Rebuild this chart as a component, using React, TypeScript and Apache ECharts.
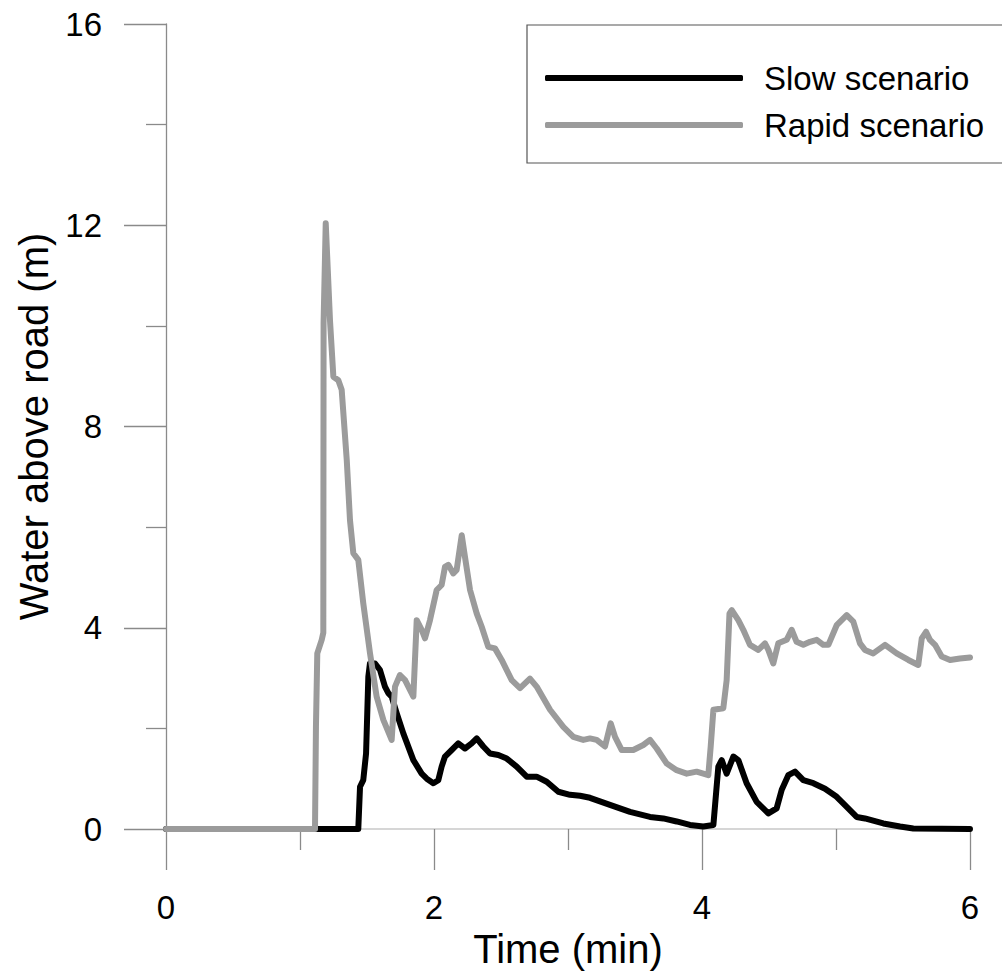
import React, { useEffect, useRef } from "react";
import * as echarts from "echarts";

const seriesNames = ["Slow scenario", "Rapid scenario"];
const xTicks = [0, 2, 4, 6];
const yTicks = [0, 4, 8, 12, 16];

const slowTime = [0, 1.435, 1.448, 1.472, 1.493, 1.51, 1.522, 1.56, 1.597, 1.634, 1.659, 1.684, 1.722, 1.771, 1.846, 1.908, 1.946, 1.995, 2.032, 2.057, 2.082, 2.132, 2.181, 2.231, 2.281, 2.319, 2.368, 2.418, 2.48, 2.543, 2.617, 2.692, 2.766, 2.841, 2.928, 3.015, 3.09, 3.164, 3.313, 3.463, 3.612, 3.711, 3.811, 3.91, 4.01, 4.085, 4.122, 4.147, 4.184, 4.234, 4.271, 4.333, 4.408, 4.495, 4.557, 4.595, 4.644, 4.694, 4.756, 4.831, 4.918, 5.005, 5.08, 5.154, 5.216, 5.353, 5.478, 5.577, 6.0];
const slowValue = [0, 0, 0.84, 0.97, 1.5, 3.03, 3.29, 3.29, 3.16, 2.83, 2.7, 2.63, 2.3, 1.9, 1.37, 1.1, 1.0, 0.91, 0.97, 1.24, 1.44, 1.57, 1.7, 1.6, 1.7, 1.8, 1.64, 1.5, 1.47, 1.4, 1.24, 1.04, 1.04, 0.94, 0.74, 0.68, 0.66, 0.62, 0.48, 0.34, 0.24, 0.21, 0.15, 0.08, 0.05, 0.08, 1.24, 1.37, 1.1, 1.44, 1.37, 0.91, 0.54, 0.31, 0.41, 0.78, 1.07, 1.14, 0.97, 0.91, 0.8, 0.64, 0.44, 0.24, 0.21, 0.11, 0.05, 0.01, 0];

const rapidTime = [0, 1.112, 1.119, 1.129, 1.162, 1.174, 1.176, 1.192, 1.224, 1.249, 1.286, 1.311, 1.349, 1.373, 1.398, 1.435, 1.472, 1.522, 1.572, 1.622, 1.684, 1.709, 1.746, 1.784, 1.846, 1.871, 1.908, 1.933, 1.97, 2.02, 2.057, 2.082, 2.107, 2.144, 2.169, 2.207, 2.231, 2.269, 2.319, 2.356, 2.405, 2.455, 2.505, 2.58, 2.642, 2.716, 2.766, 2.866, 2.965, 3.04, 3.114, 3.164, 3.214, 3.276, 3.319, 3.351, 3.401, 3.487, 3.562, 3.612, 3.662, 3.737, 3.811, 3.886, 3.96, 4.01, 4.047, 4.065, 4.085, 4.159, 4.184, 4.205, 4.222, 4.271, 4.308, 4.358, 4.42, 4.47, 4.495, 4.532, 4.569, 4.632, 4.669, 4.706, 4.756, 4.806, 4.856, 4.905, 4.943, 5.005, 5.08, 5.129, 5.179, 5.216, 5.278, 5.366, 5.453, 5.54, 5.614, 5.64, 5.672, 5.701, 5.739, 5.789, 5.851, 5.925, 6.0];
const rapidValue = [0, 0, 2.03, 3.49, 3.76, 3.9, 10.06, 12.04, 10.1, 8.99, 8.92, 8.73, 7.33, 6.14, 5.48, 5.35, 4.49, 3.5, 2.63, 2.17, 1.77, 2.83, 3.06, 2.96, 2.63, 4.15, 3.96, 3.79, 4.15, 4.75, 4.85, 5.21, 5.25, 5.08, 5.15, 5.84, 5.41, 4.75, 4.28, 4.02, 3.62, 3.59, 3.36, 2.96, 2.8, 2.99, 2.83, 2.37, 2.03, 1.83, 1.77, 1.8, 1.77, 1.64, 2.1, 1.83, 1.57, 1.57, 1.67, 1.77, 1.6, 1.3, 1.17, 1.1, 1.14, 1.1, 1.07, 1.64, 2.37, 2.4, 2.96, 4.28, 4.35, 4.15, 3.96, 3.66, 3.56, 3.69, 3.56, 3.29, 3.69, 3.76, 3.96, 3.72, 3.66, 3.72, 3.76, 3.66, 3.66, 4.05, 4.25, 4.12, 3.69, 3.56, 3.49, 3.66, 3.49, 3.36, 3.26, 3.79, 3.92, 3.76, 3.66, 3.43, 3.36, 3.39, 3.41];

const FONT = "'Liberation Sans', Arial, sans-serif";

export default function App() {
  const ref = useRef<HTMLDivElement>(null);
  useEffect(() => {
    if (!ref.current) return;
    const chart = echarts.init(ref.current, null, { renderer: "svg" });
    const pair = (ts: number[], vs: number[]) => ts.map((t, i) => [t, vs[i]]);
    chart.setOption({
      animation: false,
      backgroundColor: "#ffffff",
      textStyle: { fontFamily: FONT },
      grid: { left: 166, right: 32, top: 24, bottom: 148, containLabel: false },
      legend: {
        orient: "vertical",
        left: 540,
        top: 56,
        icon: "roundRect",
        itemWidth: 198,
        itemHeight: 6,
        itemGap: 13,
        data: seriesNames,
        textStyle: { fontFamily: FONT, fontSize: 33, color: "#000", lineHeight: 34, padding: [0, 0, 0, 16] },
      },
      xAxis: {
        type: "value",
        min: xTicks[0],
        max: xTicks[xTicks.length - 1],
        interval: 2,
        name: "Time (min)",
        nameLocation: "middle",
        nameGap: 98,
        nameTextStyle: { fontFamily: FONT, fontSize: 40, color: "#000" },
        axisLine: { show: true, lineStyle: { color: "#c8c8c8", width: 1.5 } },
        axisTick: { show: true, length: 41, lineStyle: { color: "#8a8a8a", width: 1.3 } },
        minorTick: { show: true, splitNumber: 2, length: 21, lineStyle: { color: "#8a8a8a", width: 1.3 } },
        splitLine: { show: false },
        axisLabel: { fontFamily: FONT, fontSize: 33, color: "#000", margin: 62 },
      },
      yAxis: {
        type: "value",
        min: yTicks[0],
        max: yTicks[yTicks.length - 1],
        interval: 4,
        name: "Water above road (m)",
        nameLocation: "middle",
        nameGap: 108,
        nameTextStyle: { fontFamily: FONT, fontSize: 40, color: "#000" },
        axisLine: { show: true, lineStyle: { color: "#8a8a8a", width: 1.3 } },
        axisTick: { show: true, length: 42, lineStyle: { color: "#8a8a8a", width: 1.3 } },
        minorTick: { show: true, splitNumber: 2, length: 20, lineStyle: { color: "#8a8a8a", width: 1.3 } },
        splitLine: { show: false },
        axisLabel: { fontFamily: FONT, fontSize: 33, color: "#000", margin: 64 },
      },
      graphic: [
        {
          type: "rect",
          shape: { x: 527, y: 25, width: 480, height: 138 },
          style: { fill: "none", stroke: "#555", lineWidth: 1.2 },
          z: 0,
        },
      ],
      series: [
        {
          name: seriesNames[0],
          type: "line",
          data: pair(slowTime, slowValue),
          symbol: "none",
          lineStyle: { color: "#000000", width: 6, join: "round", cap: "round" },
          itemStyle: { color: "#000000" },
          z: 2,
        },
        {
          name: seriesNames[1],
          type: "line",
          data: pair(rapidTime, rapidValue),
          symbol: "none",
          lineStyle: { color: "#9b9b9b", width: 6, join: "round", cap: "round" },
          itemStyle: { color: "#9b9b9b" },
          z: 3,
        },
      ],
    });
    return () => chart.dispose();
  }, []);
  return (
    <div
      ref={ref}
      style={{ position: "absolute", left: 0, top: 0, width: 1002, height: 977 }}
    />
  );
}
